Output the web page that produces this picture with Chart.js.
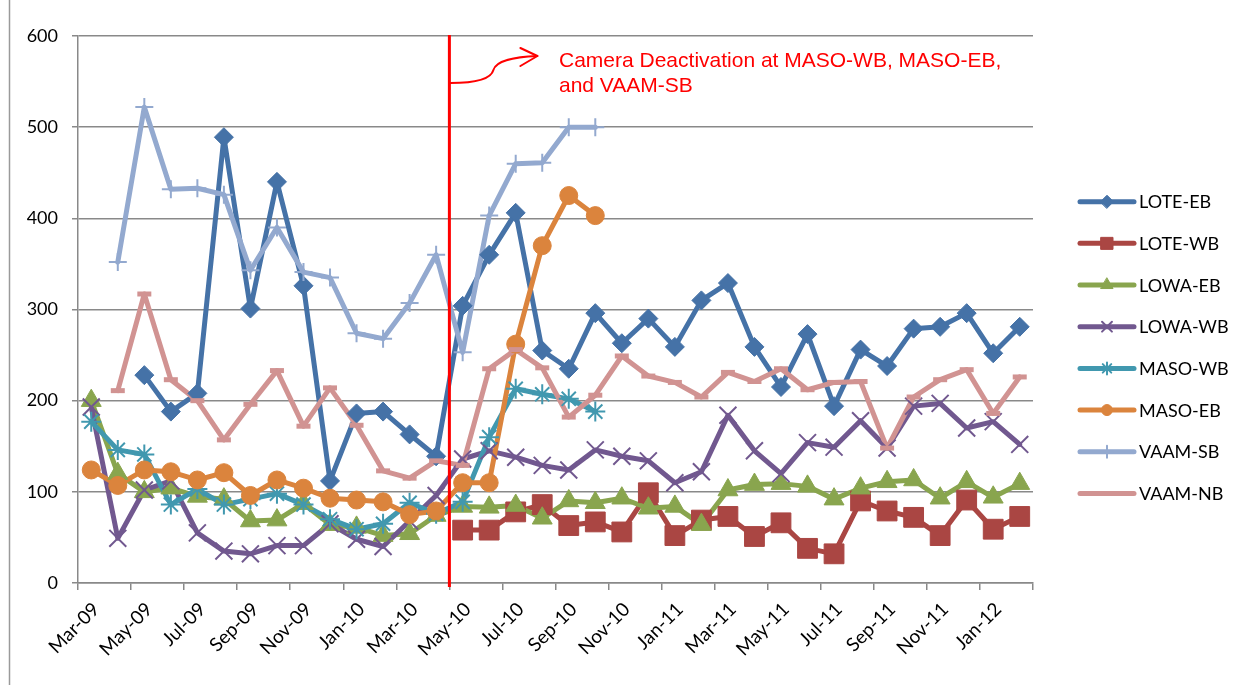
<!DOCTYPE html>
<html>
<head>
<meta charset="utf-8">
<script src="https://cdn.jsdelivr.net/npm/chart.js@4.4.1/dist/chart.umd.min.js"></script>
<style>
  html, body { margin: 0; padding: 0; background: #fff; }
  #wrap { position: relative; width: 1252px; height: 685px; }
</style>
</head>
<body>
<div id="wrap"><canvas id="trendChart" width="1252" height="685"></canvas></div>
<script>
"use strict";

var months = ['Mar-09','Apr-09','May-09','Jun-09','Jul-09','Aug-09','Sep-09','Oct-09','Nov-09','Dec-09',
  'Jan-10','Feb-10','Mar-10','Apr-10','May-10','Jun-10','Jul-10','Aug-10','Sep-10','Oct-10','Nov-10','Dec-10',
  'Jan-11','Feb-11','Mar-11','Apr-11','May-11','Jun-11','Jul-11','Aug-11','Sep-11','Oct-11','Nov-11','Dec-11',
  'Jan-12','Feb-12'];

var yTicks = [0, 100, 200, 300, 400, 500, 600];

var loteEB = [null, null, 228, 188, 208, 489, 301, 440, 326, 112, 186, 188, 163, 139, 304, 360, 406, 255,
  235, 296, 263, 290, 259, 310, 329, 259, 215, 273, 194, 256, 238, 279, 281, 296, 252, 281];
var loteWB = [null, null, null, null, null, null, null, null, null, null, null, null, null, null,
  58, 58, 78, 86, 63, 67, 56, 99, 52, 69, 73, 51, 66, 38, 32, 90, 79, 72, 52, 91, 59, 73];
var lowaEB = [200, 120, 100, 104, 95, 92, 68, 69, 87, 64, 61, 52, 54, 74,
  84, 83, 85, 71, 90, 88, 93, 82, 84, 64, 102, 108, 109, 106, 92, 104, 111, 113, 93, 111, 94, 109];
var lowaWB = [193, 49, 102, 112, 55, 35, 32, 41, 41, 65, 48, 40, 68, 96,
  136, 145, 138, 129, 124, 146, 139, 134, 110, 122, 184, 145, 120, 154, 149, 178, 148, 194, 197, 170, 177, 152];
var masoWB = [177, 146, 141, 86, 103, 86, 92, 98, 86, 70, 59, 65, 88, 76, 89, 160, 213, 207, 202, 188,
  null, null, null, null, null, null, null, null, null, null, null, null, null, null, null, null];
var masoEB = [124, 107, 124, 122, 113, 121, 96, 113, 104, 93, 91, 89, 75, 79, 110, 110, 262, 370, 425, 403,
  null, null, null, null, null, null, null, null, null, null, null, null, null, null, null, null];
var vaamSB = [null, 352, 522, 432, 433, 426, 343, 390, 341, 335, 274, 268, 307, 360, 253, 403, 460, 461, 500, 500,
  null, null, null, null, null, null, null, null, null, null, null, null, null, null, null, null];
var vaamNB = [null, 211, 317, 223, 200, 157, 196, 233, 172, 214, 173, 123, 115, 134, 129, 235, 256, 236,
  182, 206, 249, 227, 220, 204, 231, 221, 235, 212, 220, 221, 148, 204, 223, 234, 186, 226];

// month where the cameras went off (line is drawn at the start of it)
var deactivationMonth = 'May-10';
var noteLines = ['Camera Deactivation at MASO-WB, MASO-EB,', 'and VAAM-SB'];

var series = [
  { name: 'LOTE-EB', data: loteEB, color: '#4572A7', marker: 'rectRot',  radius: 9.5, markerLine: 1, legendRadius: 6.5 },
  { name: 'LOTE-WB', data: loteWB, color: '#AA4643', marker: 'rect',     radius: 14,  markerLine: 1, legendRadius: 8.5 },
  { name: 'LOWA-EB', data: lowaEB, color: '#89A54E', marker: 'triangle', radius: 11.5, markerLine: 1, legendRadius: 7 },
  { name: 'LOWA-WB', data: lowaWB, color: '#71588F', marker: 'crossRot', radius: 12,  markerLine: 2, legendRadius: 7 },
  { name: 'MASO-WB', data: masoWB, color: '#4198AF', marker: 'star',     radius: 10,  markerLine: 2, legendRadius: 6 },
  { name: 'MASO-EB', data: masoEB, color: '#DB843D', marker: 'circle',   radius: 9,   markerLine: 1, legendRadius: 5.5 },
  { name: 'VAAM-SB', data: vaamSB, color: '#93A9CF', marker: 'cross',    radius: 9,   markerLine: 2, legendRadius: 6 },
  { name: 'VAAM-NB', data: vaamNB, color: '#D19392', marker: 'line',     radius: 7,   markerLine: 5, legendRadius: 7 }
];

var axisGray = '#898989';
var labelFont = 'Lato, "Open Sans", sans-serif';

// Excel paints every line first, then every marker on top
var datasets = [];
series.forEach(function (s, i) {
  datasets.push({
    label: s.name,
    data: s.data,
    borderColor: s.color,
    backgroundColor: s.color,
    borderWidth: 5,
    borderJoinStyle: 'round',
    borderCapStyle: 'round',
    pointRadius: 0,
    tension: 0,
    order: 20 - i
  });
});
series.forEach(function (s, i) {
  datasets.push({
    label: s.name + ' markers',
    data: s.data,
    showLine: false,
    pointStyle: s.marker,
    pointRadius: s.radius,
    pointBackgroundColor: s.color,
    pointBorderColor: s.color,
    pointBorderWidth: s.markerLine,
    order: 10 - i
  });
});

function drawMarker(ctx, s, x, y, r) {
  if (!Chart.helpers || !Chart.helpers.drawPoint) return;
  ctx.save();
  ctx.fillStyle = s.color;
  ctx.strokeStyle = s.color;
  ctx.lineWidth = s.markerLine;
  Chart.helpers.drawPoint(ctx, { pointStyle: s.marker, radius: r, rotation: 0, borderWidth: s.markerLine }, x, y);
  ctx.restore();
}

var overlayPlugin = {
  id: 'overlay',
  afterDatasetsDraw: function (chart) {
    var ctx = chart.ctx;
    var area = chart.chartArea;
    var xs = chart.scales.x;
    var idx = months.indexOf(deactivationMonth);
    var redX = (xs.getPixelForValue(idx - 1) + xs.getPixelForValue(idx)) / 2;

    ctx.save();
    // vertical red marker line
    ctx.strokeStyle = '#FF0000';
    ctx.lineWidth = 3;
    ctx.beginPath();
    ctx.moveTo(redX, area.top - 1);
    ctx.lineTo(redX, area.bottom + 4);
    ctx.stroke();

    // curved arrow pointing to the note
    ctx.lineWidth = 2;
    ctx.lineCap = 'round';
    ctx.lineJoin = 'round';
    ctx.beginPath();
    ctx.moveTo(redX + 1, 83);
    ctx.bezierCurveTo(redX + 30, 83, redX + 42, 78, redX + 44, 70);
    ctx.bezierCurveTo(redX + 47, 60, redX + 65, 57, redX + 88, 56);
    ctx.stroke();
    ctx.beginPath();
    ctx.moveTo(redX + 71, 48);
    ctx.lineTo(redX + 88, 56);
    ctx.lineTo(redX + 71, 66);
    ctx.stroke();

    ctx.fillStyle = '#FF0000';
    ctx.font = '21px "Liberation Sans", Arial, sans-serif';
    ctx.textAlign = 'left';
    ctx.textBaseline = 'alphabetic';
    ctx.fillText(noteLines[0], 559, 67);
    ctx.fillText(noteLines[1], 559, 92);
    ctx.restore();
  },
  afterDraw: function (chart) {
    var ctx = chart.ctx;
    ctx.save();
    // outer chart frame, only its left edge shows in the picture
    ctx.strokeStyle = '#9a9a9a';
    ctx.lineWidth = 1.5;
    ctx.beginPath();
    ctx.moveTo(9.5, 0);
    ctx.lineTo(9.5, 685);
    ctx.stroke();

    // legend
    series.forEach(function (s, i) {
      var y = 201.7 + i * 41.67;
      ctx.strokeStyle = s.color;
      ctx.lineWidth = 5;
      ctx.lineCap = 'round';
      ctx.beginPath();
      ctx.moveTo(1080, y);
      ctx.lineTo(1134, y);
      ctx.stroke();
      if (s.marker !== 'line') drawMarker(ctx, s, 1107, y, s.legendRadius);
      ctx.fillStyle = '#000';
      ctx.font = '18px ' + labelFont;
      ctx.textAlign = 'left';
      ctx.textBaseline = 'alphabetic';
      ctx.fillText(s.name, 1139, y + 6.5);
    });
    ctx.restore();
  }
};

var trendChart = new Chart(document.getElementById('trendChart').getContext('2d'), {
  type: 'line',
  data: { labels: months, datasets: datasets },
  plugins: [overlayPlugin],
  options: {
    responsive: false,
    animation: false,
    events: [],
    layout: { padding: { top: 36, right: 219, bottom: 0, left: 0 } },
    plugins: {
      legend: { display: false },
      tooltip: { enabled: false }
    },
    scales: {
      x: {
        type: 'category',
        offset: true,
        grid: {
          offset: true,
          drawOnChartArea: false,
          tickLength: 7,
          lineWidth: 1.5,
          color: function (c) {
            return (c.index === undefined || c.index % 2 === 0) ? axisGray : 'rgba(0,0,0,0)';
          }
        },
        border: { display: true, color: axisGray, width: 1.5 },
        ticks: {
          autoSkip: false,
          minRotation: 45,
          maxRotation: 45,
          padding: 8,
          labelOffset: 5,
          color: '#000',
          font: { family: labelFont, size: 19 },
          callback: function (v, i) { return i % 2 === 0 ? months[i] : ''; }
        },
        afterFit: function (s) { s.height = 102; }
      },
      y: {
        min: yTicks[0],
        max: yTicks[yTicks.length - 1],
        afterBuildTicks: function (s) { s.ticks = yTicks.map(function (v) { return { value: v }; }); },
        grid: { color: axisGray, lineWidth: 1.5, tickLength: 6 },
        border: { display: true, color: axisGray, width: 1.5 },
        ticks: {
          padding: 14,
          color: '#000',
          font: { family: labelFont, size: 18 }
        },
        afterFit: function (s) { s.width = 78; }
      }
    }
  }
});
</script>
</body>
</html>
